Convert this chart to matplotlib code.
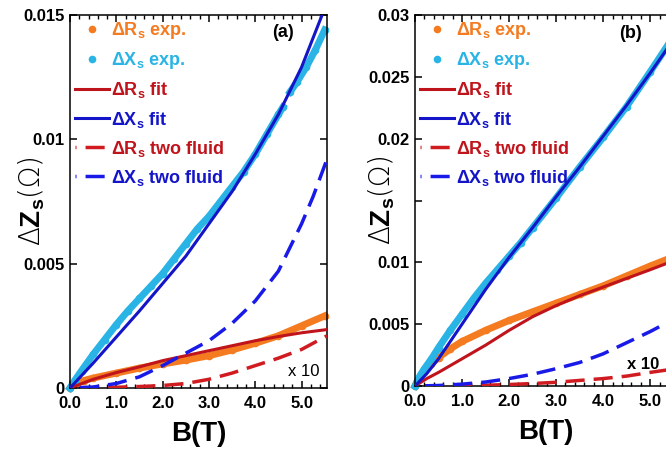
import matplotlib
matplotlib.use('Agg')
import matplotlib.pyplot as plt
from matplotlib.lines import Line2D
from matplotlib.ticker import MultipleLocator, FuncFormatter
import numpy as np

plt.rcParams.update({'font.family': 'Liberation Sans', 'font.weight': 'bold',
                     'axes.labelweight': 'bold',
                     'mathtext.fontset': 'custom', 'mathtext.rm': 'DejaVu Sans:light',
                     'mathtext.it': 'Liberation Sans:bold', 'mathtext.bf': 'Liberation Sans:bold',
                     'axes.linewidth': 1.1})

# ---------- panel (a) ----------
Ba_Xexp = [0, 0.1, 0.25, 0.5, 0.75, 1.0, 1.25, 1.5, 1.75, 2.0, 2.25, 2.5, 2.75, 3.0, 3.25,
           3.5, 3.75, 4.0, 4.25, 4.5, 4.6, np.nan, 4.75, 4.9, 5.1, 5.3, 5.5]
a_Xexp = [0, 0.0003, 0.0007, 0.00135, 0.00195, 0.00255, 0.0031, 0.0036, 0.0041, 0.0046, 0.0052,
          0.0058, 0.0064, 0.0069, 0.0075, 0.0081, 0.0087, 0.0094, 0.0102, 0.0110, 0.0113, np.nan,
          0.0119, 0.0123, 0.0129, 0.0136, 0.0144]
Ba_Rexp = [0, 0.05, 0.15, 0.3, 0.5, 1.0, 1.5, 2.0, 2.5, 3.0, 3.5, 4.0, 4.5, 5.0, 5.5]
a_Rexp = [0, 0.00012, 0.00022, 0.0003, 0.0004, 0.0006, 0.0008, 0.00097, 0.00112, 0.0013,
          0.00153, 0.0018, 0.0021, 0.0025, 0.0029]
Ba_fit = [0, 0.5, 1.0, 1.5, 2.0, 2.5, 3.0, 3.5, 4.0, 4.5, 5.0, 5.55]
a_Xfit = [0, 0.001, 0.00205, 0.0031, 0.0042, 0.0053, 0.0066, 0.0079, 0.0094, 0.0110, 0.0129, 0.0155]
a_Rfit = [0, 0.00035, 0.00062, 0.00085, 0.0011, 0.0013, 0.0015, 0.0017, 0.0019, 0.00207, 0.00222, 0.00235]
Ba_2f = [0, 0.5, 1.0, 1.5, 2.0, 2.5, 3.0, 3.5, 4.0, 4.5, 5.0, 5.25, 5.55]
a_X2f = [0, 0.00004, 0.00018, 0.00045, 0.0009, 0.0014, 0.0019, 0.0026, 0.0035, 0.0047, 0.0066,
         0.0077, 0.0092]
a_R2f = [0, 0.00001, 0.00003, 0.00006, 0.0001, 0.00018, 0.00035, 0.0006, 0.0009, 0.0012, 0.00155,
         0.0018, 0.0021]

# ---------- panel (b) ----------
Bb_Xexp = [0, 0.1, 0.2, 0.35, 0.5, 0.75, 1.0, 1.25, 1.5, 1.75, 2.0, 2.25, 2.5, 3.0, 3.5, 4.0,
           4.5, 5.0, 5.4]
b_Xexp = [0, 0.0008, 0.0014, 0.0022, 0.0031, 0.0045, 0.0058, 0.0071, 0.0083, 0.0094, 0.0105,
          0.0116, 0.0128, 0.0152, 0.0177, 0.0201, 0.0226, 0.0254, 0.0277]
Bb_Rexp = [0, 0.05, 0.1, 0.2, 0.35, 0.5, 0.75, 1.0, 1.5, 2.0, 2.5, 3.0, 3.5, 4.0, 4.5, 5.0, 5.4]
b_Rexp = [0, 0.0004, 0.0007, 0.0012, 0.0018, 0.0023, 0.003, 0.0036, 0.0045, 0.0053, 0.0060,
          0.0067, 0.0074, 0.0081, 0.0089, 0.0097, 0.0103]
Bb_fit = [0, 0.25, 0.5, 1.0, 1.5, 2.0, 2.5, 3.0, 3.5, 4.0, 4.5, 5.0, 5.55]
b_Xfit = [0, 0.001, 0.0022, 0.005, 0.0078, 0.0104, 0.0128, 0.0153, 0.0177, 0.0202, 0.0227, 0.0253, 0.0283]
b_Rfit = [0, 0.0006, 0.0011, 0.0022, 0.0033, 0.0045, 0.0056, 0.0065, 0.0073, 0.0080, 0.0087, 0.0094, 0.0102]
Bb_2f = [0, 0.5, 1.0, 1.5, 2.0, 2.5, 3.0, 3.5, 4.0, 4.5, 5.0, 5.55]
b_X2f = [0, 0.00004, 0.00015, 0.00032, 0.0006, 0.00095, 0.0014, 0.0019, 0.0026, 0.0035, 0.0044, 0.0055]
b_R2f = [0, 0.0, 0.00003, 0.00006, 0.00012, 0.0002, 0.0003, 0.00045, 0.0006, 0.0008, 0.0011, 0.0014]

c_or = '#F47B20'
c_lb = '#2AB4E6'
c_red = '#C0141C'
c_blue = '#1414C8'
c_red2 = '#D01C20'
c_blue2 = '#1A1AE8'

fig = plt.figure(figsize=(6.66, 4.5), dpi=100)
ax1 = fig.add_axes([70/666, 62/450, 257/666, 373/450])
ax2 = fig.add_axes([415/666, 64/450, 261/666, 371/450])


def panel(ax, Bx, yx, Br, yr, Bf, yxf, yrf, B2, yx2, yr2, ymax, tag, tagpos, xtxt, xtw, hide=None):
    ax.plot(Br, yr, '-o', color=c_or, lw=5, ms=5.5, mew=0, clip_on=False, zorder=2)
    ax.plot(Bx, yx, '-o', color=c_lb, lw=5, ms=5.5, mew=0, clip_on=False, zorder=2)
    lrf, = ax.plot(Bf, yrf, '-', color=c_red, lw=2.2, zorder=3)
    lxf, = ax.plot(Bf, yxf, '-', color=c_blue, lw=2.2, zorder=3)
    lr2, = ax.plot(B2, yr2, color=c_red2, lw=2.5, ls=(5.2, (5.5, 2.6)), zorder=3)
    lx2, = ax.plot(B2, yx2, color=c_blue2, lw=2.5, ls=(5.2, (5.5, 2.6)), zorder=3)
    hr = Line2D([], [], ls='none', marker='o', color=c_or, ms=5.5, mew=0)
    hx = Line2D([], [], ls='none', marker='o', color=c_lb, ms=5.5, mew=0)
    leg = ax.legend([hr, hx, lrf, lxf, lr2, lx2],
                    ['ΔR$_s$ exp.', 'ΔX$_s$ exp.', 'ΔR$_s$ fit', 'ΔX$_s$ fit',
                     'ΔR$_s$ two fluid', 'ΔX$_s$ two fluid'],
                    loc='upper left', bbox_to_anchor=(0, 1), borderaxespad=0, borderpad=0.3,
                    frameon=False, fontsize=13, handlelength=1.85, handletextpad=0.1,
                    labelspacing=0.5, numpoints=1)
    for t, c in zip(leg.get_texts(), [c_or, c_lb, c_red, c_blue, c_red, c_blue]):
        t.set_color(c)
    ax.set_xlim(0, 5.55)
    ax.set_ylim(0, ymax)
    ax.xaxis.set_major_locator(MultipleLocator(1))
    ax.xaxis.set_minor_locator(MultipleLocator(0.2))
    ax.yaxis.set_major_locator(MultipleLocator(0.005))
    ax.xaxis.set_major_formatter(FuncFormatter(lambda v, p: '%.1f' % v))
    ax.yaxis.set_major_formatter(
        FuncFormatter(lambda v, p: '' if hide is not None and abs(v - hide) < 1e-6 else '%g' % round(v, 4)))
    ax.tick_params(which='both', direction='in', top=True, right=True, labelsize=12)
    ax.tick_params(which='major', length=5, width=1.1)
    ax.tick_params(which='minor', length=3, width=1)
    ax.tick_params(axis='x', pad=6)
    ax.tick_params(axis='y', pad=4)
    ax.text(tagpos[0], tagpos[1], tag, transform=ax.transAxes, fontsize=13,
            ha='center', va='center')
    ax.text(xtxt[0], xtxt[1], 'x 10', transform=ax.transAxes, fontsize=12,
            ha='center', va='center', fontweight=xtw)
    ax.set_xlabel('B(T)', fontsize=20, labelpad=7)
    ax.set_ylabel(r'$\Delta\mathbf{Z}_{\mathbf{s}}(\Omega)$', fontsize=20)


panel(ax1, Ba_Xexp, a_Xexp, Ba_Rexp, a_Rexp, Ba_fit, a_Xfit, a_Rfit, Ba_2f, a_X2f, a_R2f,
      0.015, '(a)', (0.829, 0.952), (0.91, 0.043), 'normal')
panel(ax2, Bb_Xexp, b_Xexp, Bb_Rexp, b_Rexp, Bb_fit, b_Xfit, b_Rfit, Bb_2f, b_X2f, b_R2f,
      0.03, '(b)', (0.824, 0.951), (0.874, 0.057), 'bold', hide=0.015)
ax1.yaxis.set_label_coords(-0.09, 0.5)
ax2.yaxis.set_label_coords(-0.07, 0.5)

plt.savefig('out.png', dpi=100)
plt.close()
